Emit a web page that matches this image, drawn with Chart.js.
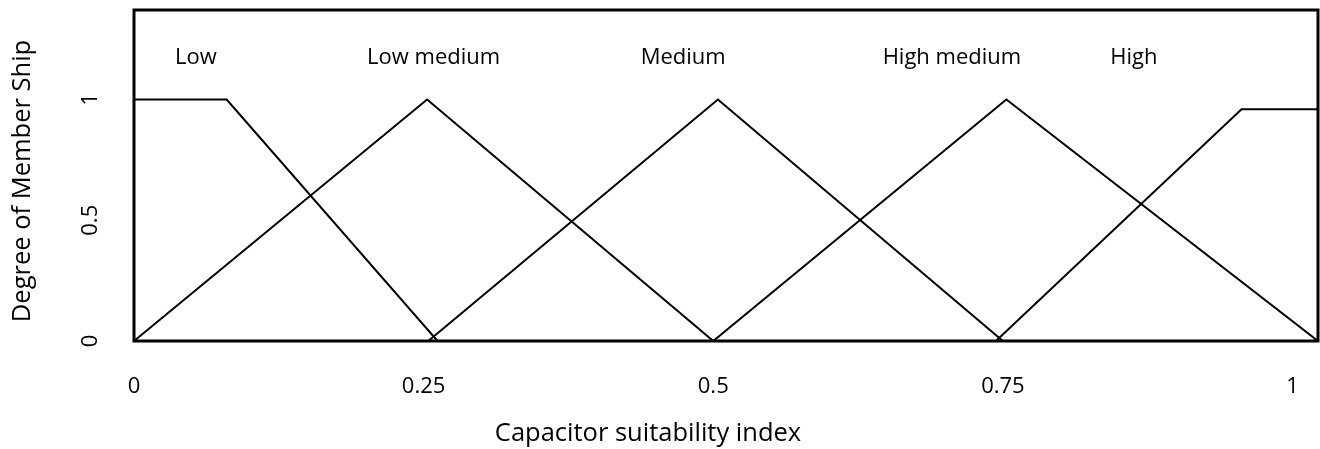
<!DOCTYPE html>
<html>
<head>
<meta charset="utf-8">
<script src="https://cdn.jsdelivr.net/npm/chart.js@4.4.1/dist/chart.umd.min.js"></script>
<style>
    html, body { margin: 0; padding: 0; background: #fff; }
</style>
</head>
<body>
<canvas id="chart" width="1320" height="449"></canvas>
<script>
// membership functions: x = capacitor suitability index, y = degree of membership
const seriesNames = ['Low', 'Low medium', 'Medium', 'High medium', 'High'];
const lowX = [0, 0.08, 0.262];
const lowY = [1, 1, 0];
const lowMediumX = [0, 0.253, 0.5];
const lowMediumY = [0, 1, 0];
const mediumX = [0.254, 0.504, 0.75];
const mediumY = [0, 1, 0];
const highMediumX = [0.5, 0.753, 1.022];
const highMediumY = [0, 1, 0];
const highX = [0.744, 0.956, 1.022];
const highY = [0, 0.96, 0.96];

// where the set names sit, in chart units
const nameX = [0.0535, 0.2586, 0.474, 0.706, 0.863];
const nameLevel = 1.147;

const xTicks = [0, 0.25, 0.5, 0.75, 1];
const yTicks = [0, 0.5, 1];
const xTitle = 'Capacitor suitability index';
const yTitle = 'Degree of Member Ship';

const xs = [lowX, lowMediumX, mediumX, highMediumX, highX];
const ys = [lowY, lowMediumY, mediumY, highMediumY, highY];

const datasets = seriesNames.map((name, i) => ({
    label: name,
    data: xs[i].map((x, j) => ({ x: x, y: ys[i][j] })),
    showLine: true,
    borderColor: '#000',
    borderWidth: 2,
    pointRadius: 0,
    tension: 0,
    fill: false
}));

const FONT = '22px "Open Sans"';
const TITLE_FONT = '25.5px "Open Sans"';

// frame, tick labels, titles and set names
const textPlugin = {
    id: 'fuzzyText',
    afterDraw(chart) {
        const ctx = chart.ctx;
        const area = chart.chartArea;
        const sx = chart.scales.x;
        const sy = chart.scales.y;
        ctx.save();

        ctx.strokeStyle = '#000';
        ctx.lineWidth = 3;
        ctx.strokeRect(area.left, area.top, area.right - area.left, area.bottom - area.top);

        ctx.fillStyle = '#000';
        ctx.font = FONT;
        ctx.textAlign = 'center';
        ctx.textBaseline = 'alphabetic';

        xTicks.forEach(v => {
            ctx.fillText(String(v), sx.getPixelForValue(v), 393);
        });

        yTicks.forEach(v => {
            ctx.save();
            ctx.translate(97, sy.getPixelForValue(v));
            ctx.rotate(-Math.PI / 2);
            ctx.fillText(String(v), 0, 0);
            ctx.restore();
        });

        seriesNames.forEach((name, i) => {
            ctx.fillText(name, sx.getPixelForValue(nameX[i]), sy.getPixelForValue(nameLevel));
        });

        ctx.font = TITLE_FONT;
        ctx.fillText(xTitle, 648, 441);

        ctx.save();
        ctx.translate(30, 181);
        ctx.rotate(-Math.PI / 2);
        ctx.fillText(yTitle, 0, 0);
        ctx.restore();

        ctx.restore();
    }
};

const ctx = document.getElementById('chart').getContext('2d');
const chart = new Chart(ctx, {
    type: 'scatter',
    data: { datasets: datasets },
    options: {
        responsive: false,
        animation: false,
        devicePixelRatio: 1,
        layout: { padding: { left: 134, top: 10, right: 2, bottom: 108 } },
        plugins: {
            legend: { display: false },
            tooltip: { enabled: false }
        },
        scales: {
            x: { type: 'linear', min: 0, max: 1.022, display: false },
            y: { type: 'linear', min: 0, max: 1.3706, display: false }
        }
    },
    plugins: [textPlugin]
});
</script>
</body>
</html>
